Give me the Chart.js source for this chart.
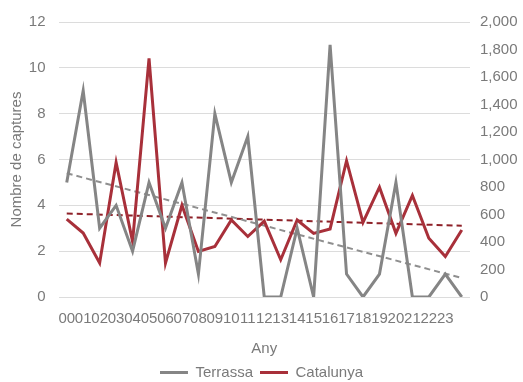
<!DOCTYPE html>
<html>
<head>
<meta charset="utf-8">
<script src="https://cdn.jsdelivr.net/npm/chart.js@4.4.1/dist/chart.umd.min.js"></script>
<style>
  html, body { margin: 0; padding: 0; background: #fff; }
  #wrap { width: 523px; height: 382px; }
</style>
</head>
<body>
<div id="wrap"><canvas id="chart"></canvas></div>
<script>
// years 2000..2024 (the last one has no label in the original)
const categories = ['00','01','02','03','04','05','06','07','08','09','10','11','12',
                    '13','14','15','16','17','18','19','20','21','22','23','24'];
const terrassa = [5, 9, 3, 4, 2, 5, 3, 5, 1, 8, 5, 7, 0, 0, 3, 0, 11, 1, 0, 1, 5, 0, 0, 1, 0];
const catalunya = [567, 465, 247, 979, 403, 1735, 247, 667, 331, 367, 560, 440, 552,
                   271, 560, 463, 495, 991, 542, 799, 463, 739, 427, 295, 487];
// trend lines, start and end values
const terrassaTrend = [5.4, 0.83];
const catalunyaTrend = [607, 518];

const leftTicks = [0, 2, 4, 6, 8, 10, 12];
const rightTicks = [0, 200, 400, 600, 800, 1000, 1200, 1400, 1600, 1800, 2000];

function endsOnly(pair) {
  return categories.map((c, i) => i === 0 ? pair[0] : (i === categories.length - 1 ? pair[1] : null));
}

const font = { family: "'Liberation Sans', Arial, sans-serif", size: 15 };
const textColor = '#7a7a7a';

const ctx = document.getElementById('chart').getContext('2d');
new Chart(ctx, {
  type: 'line',
  data: {
    labels: categories,
    datasets: [
      {
        label: 'Terrassa', data: terrassa, yAxisID: 'y',
        borderColor: '#858585', borderWidth: 3, pointRadius: 0, tension: 0
      },
      {
        label: 'Catalunya', data: catalunya, yAxisID: 'y1',
        borderColor: '#a8303a', borderWidth: 3, pointRadius: 0, tension: 0
      },
      {
        label: 'trendT', data: endsOnly(terrassaTrend), yAxisID: 'y', spanGaps: true,
        borderColor: '#8f8f8f', borderWidth: 2, borderDash: [6, 4], pointRadius: 0
      },
      {
        label: 'trendC', data: endsOnly(catalunyaTrend), yAxisID: 'y1', spanGaps: true,
        borderColor: '#8e2128', borderWidth: 2, borderDash: [6, 4], pointRadius: 0
      }
    ]
  },
  options: {
    responsive: true,
    maintainAspectRatio: false,
    animation: false,
    layout: { padding: { top: 18, left: 0, right: 0, bottom: -8 } },
    plugins: {
      tooltip: { enabled: false },
      legend: {
        position: 'bottom',
        labels: {
          font: font, color: textColor,
          usePointStyle: true, pointStyle: 'line', pointStyleWidth: 28,
          boxHeight: 3, padding: 7,
          filter: item => !item.text.startsWith('trend')
        }
      }
    },
    scales: {
      x: {
        offset: true,
        grid: { display: false, drawTicks: false },
        border: { display: false },
        ticks: {
          font: font, color: textColor, autoSkip: false, maxRotation: 0, padding: 13,
          callback: (v, i) => i === categories.length - 1 ? '' : categories[i]
        },
        title: { display: true, text: 'Any', font: font, color: textColor, padding: { top: 0, bottom: 0 } },
        afterFit: s => { s.height = 61; }
      },
      y: {
        position: 'left',
        min: 0, max: 12,
        afterBuildTicks: s => { s.ticks = leftTicks.map(v => ({ value: v })); },
        grid: { color: '#dcdcdc', drawTicks: false },
        border: { display: false },
        ticks: { font: font, color: textColor, padding: 13 },
        title: { display: true, text: 'Nombre de captures', font: font, color: textColor, padding: { top: 8, bottom: 0 } },
        afterFit: s => { s.width = 58.5; }
      },
      y1: {
        position: 'right',
        min: 0, max: 2000,
        afterBuildTicks: s => { s.ticks = rightTicks.map(v => ({ value: v })); },
        grid: { display: false, drawTicks: false },
        border: { display: false },
        ticks: { font: font, color: textColor, padding: 10 },
        afterFit: s => { s.width = 53; }
      }
    }
  }
});
</script>
</body>
</html>
